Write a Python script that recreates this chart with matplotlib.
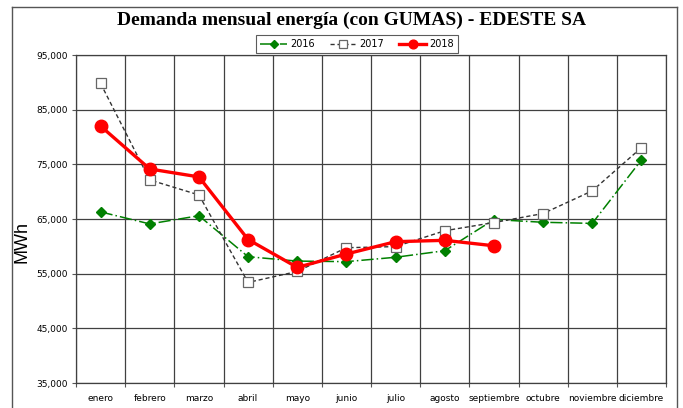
import matplotlib.pyplot as plt
from matplotlib.lines import Line2D
from matplotlib.ticker import FuncFormatter

meses = ["enero", "febrero", "marzo", "abril", "mayo", "junio", "julio",
         "agosto", "septiembre", "octubre", "noviembre", "diciembre"]
d2016 = [66300, 64100, 65600, 58100, 57300, 57200, 58000, 59200, 64900, 64400, 64200, 75800]
d2017 = [89800, 72150, 69400, 53400, 55400, 59750, 59950, 62850, 64350, 66000, 70150, 78050]
d2018 = [82000, 74150, 72700, 61250, 56150, 58600, 60850, 61100, 60100]
y_ticks = [35000, 45000, 55000, 65000, 75000, 85000, 95000]

fig = plt.figure(figsize=(6.83, 4.08), dpi=100)
ax = fig.add_axes([76 / 683, 1 - 383 / 408, 590 / 683, 328 / 408])

x = range(len(meses))
ax.plot(x, d2016, color="#008000", lw=1.1, ls=(0, (8, 2, 1, 2)), marker="D",
        ms=5.5, mfc="#008000", mec="#008000", label="2016", zorder=3)
ax.plot(x, d2017, color="#333333", lw=1.0, ls=(0, (3, 2)), marker="s",
        ms=7.5, mfc="white", mec="#666666", mew=0.9, label="2017", zorder=3)
ax.plot(range(len(d2018)), d2018, color="#ff0000", lw=2.4, marker="o",
        ms=9, mfc="#ff0000", mec="#ff0000", label="2018", zorder=4)

ax.set_xlim(-0.5, 11.5)
ax.set_ylim(35000, 95000)
ax.set_yticks(y_ticks)
ax.yaxis.set_major_formatter(FuncFormatter(lambda v, p: f"{int(v):,}"))
ax.set_xticks([i - 0.5 for i in range(13)])
ax.set_xticklabels([])
ax.set_xticks(list(x), minor=True)
ax.set_xticklabels(meses, minor=True, fontsize=6.5, family="Liberation Sans Narrow")
ax.tick_params(axis="x", which="minor", length=0, pad=8)
ax.tick_params(axis="x", which="major", length=3, color="#555555")
ax.tick_params(axis="y", length=3, labelsize=6.5, color="#555555", pad=3)
for lab in ax.get_yticklabels():
    lab.set_family("Liberation Sans Narrow")
ax.grid(True, which="major", color="#404040", lw=0.9)
for s in ax.spines.values():
    s.set_color("#404040")
    s.set_linewidth(0.9)
ax.set_axisbelow(True)

ax.set_ylabel("MWh", fontsize=13, family="Liberation Sans")
ax.yaxis.set_label_coords(-46 / 590, 0.43)

fig.text(352 / 683, 1 - 20 / 408, "Demanda mensual energía (con GUMAS) - EDESTE SA",
         ha="center", va="center", fontsize=14, fontweight="bold",
         family="Liberation Serif")

leg = fig.legend(loc="center", bbox_to_anchor=(357 / 683, 1 - 44 / 408), ncol=3,
                 fontsize=7, frameon=True, fancybox=False, edgecolor="#333333",
                 handlelength=2.8, columnspacing=1.5, borderpad=0.4,
                 handletextpad=0.3, markerscale=0.7)
leg.get_frame().set_linewidth(0.8)

# outer chart border
fig.add_artist(Line2D([12 / 683, 12 / 683], [0, 1 - 7 / 408], color="#555555", lw=1))
fig.add_artist(Line2D([677 / 683, 677 / 683], [0, 1 - 7 / 408], color="#555555", lw=1))
fig.add_artist(Line2D([12 / 683, 677 / 683], [1 - 7 / 408, 1 - 7 / 408], color="#555555", lw=1))

fig.savefig("out.png", dpi=100, facecolor="white")
